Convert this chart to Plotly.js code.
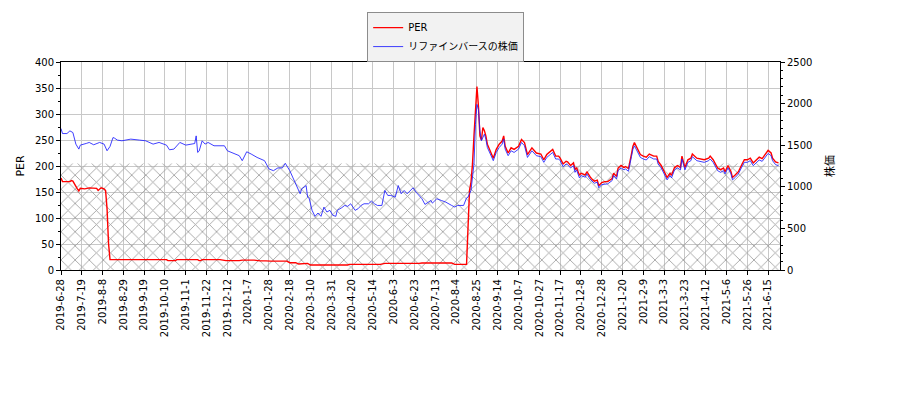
<!DOCTYPE html>
<html>
<head>
<meta charset="utf-8">
<script src="https://cdn.plot.ly/plotly-3.0.1.min.js"></script>
<style>
  html, body { margin: 0; padding: 0; background: #fff; }
  #chart { width: 900px; height: 400px; }
</style>
</head>
<body>
<div id="chart"></div>
<script>
// x axis is trading-day index, a label every 14 days
var tickLabels = ["2019-6-28","2019-7-19","2019-8-8","2019-8-29","2019-9-19","2019-10-10","2019-11-1","2019-11-22","2019-12-12","2020-1-7","2020-1-28","2020-2-18","2020-3-10","2020-3-31","2020-4-20","2020-5-14","2020-6-3","2020-6-23","2020-7-13","2020-8-4","2020-8-25","2020-9-14","2020-10-7","2020-10-27","2020-11-17","2020-12-8","2020-12-28","2021-1-20","2021-2-9","2021-3-3","2021-3-23","2021-4-12","2021-5-6","2021-5-26","2021-6-15"];
var tickStep = 14;
var lastDay = 484;

// PER (left axis)
var perDay = [0,1,6,7,8,10,11,12,13,16,19,24,25,27,29,30,31,32,33,71,72,77,78,92,93,94,95,107,111,120,122,130,134,138,141,152,154,158,160,166,168,193,194,215,218,241,243,263,265,273,
  274,275,276,277,278,279,280,281,282,283,284,285,286,287,289,291,293,295,297,298,299,301,303,305,308,310,312,314,317,320,323,325,327,329,331,333,335,336,338,340,341,343,345,346,347,349,350,353,354,356,357,359,361,362,364,366,368,371,372,374,375,377,379,380,382,384,385,386,388,390,392,394,396,399,401,402,404,406,408,410,411,413,415,417,418,420,422,424,425,428,431,433,436,437,439,441,442,444,446,447,449,451,452,454,456,458,460,462,464,466,468,470,472,474,476,478,479,481,483];
var perVal = [177,170,170,172,171,159,156,152,157,156,158,157,153,158,156,153,118,51,20,20,18,18,20,20,18,18,20,20,18,18,19,19,17.5,17.5,17,17,14,14,11.5,12.7,9.6,9.6,10.8,10.8,12.7,12.7,13.5,13.5,10.8,10.8,
  102,153,169,204,258,306,353,315,258,250,274,268,258,242,229,215,232,242,248,258,238,225,235,232,238,251,245,222,235,225,223,212,222,227,232,219,219,215,204,209,208,201,206,193,197,182,186,183,189,180,176,171,173,162,168,170,170,176,186,180,196,201,197,199,195,223,238,245,232,222,219,217,223,219,219,209,201,189,178,186,182,197,201,197,219,197,212,215,223,215,214,212,215,219,212,201,196,193,196,189,201,189,178,183,189,201,212,212,215,206,212,217,214,222,230,225,215,208,206];

// share price (right axis)
var priceDay = [0,1,4,6,8,10,12,13,17,19,22,26,29,31,33,35,36,38,41,47,53,57,62,66,71,73,76,80,84,88,90,91,92,93,95,97,99,103,107,110,112,117,120,122,125,128,132,137,140,143,146,149,151,154,156,158,159,161,162,164,165,166,167,169,171,173,175,177,179,181,183,185,186,189,191,193,195,198,200,202,204,207,209,211,213,216,218,220,222,225,227,229,231,233,237,239,241,243,245,247,249,250,253,256,259,263,265,267,271,273,274,276,277,278,279,280,281,282,283,285,286,287,289,291,293,295,297,298,299,301,303,305,308,310,312,314,317,320,323,325,327,329,331,333,335,336,338,340,341,343,345,346,347,349,350,353,354,356,357,359,361,362,364,366,368,371,372,374,375,377,379,380,382,384,385,386,388,390,392,394,396,399,401,402,404,406,408,410,411,413,415,417,418,420,422,424,425,428,431,433,436,437,439,441,442,444,446,447,449,451,452,454,456,458,460,462,464,466,468,470,472,474,476,478,479,481,483];
var priceVal = [1700,1640,1640,1672,1652,1513,1453,1501,1521,1533,1505,1533,1513,1433,1485,1592,1585,1561,1553,1573,1561,1553,1513,1533,1501,1445,1453,1533,1501,1513,1520,1612,1413,1430,1553,1513,1533,1493,1493,1493,1433,1394,1374,1314,1421,1394,1353,1314,1215,1194,1227,1227,1282,1194,1115,1035,995,916,975,1003,1015,876,865,717,645,685,645,756,697,717,657,645,717,749,776,765,796,717,737,776,796,796,828,796,776,776,956,896,896,876,1015,916,956,916,988,936,896,856,788,816,836,804,856,836,816,776,757,776,776,866,876,956,1100,1274,1750,1991,1931,1672,1553,1633,1573,1473,1394,1314,1413,1473,1513,1573,1453,1374,1433,1413,1453,1533,1493,1353,1433,1374,1362,1294,1353,1386,1413,1334,1334,1314,1242,1274,1266,1227,1254,1174,1203,1107,1135,1115,1155,1095,1075,1043,1055,988,1027,1035,1035,1075,1135,1095,1194,1227,1203,1215,1186,1362,1453,1493,1413,1353,1334,1322,1362,1334,1334,1274,1227,1155,1083,1135,1107,1203,1227,1203,1334,1203,1294,1314,1362,1314,1306,1294,1314,1334,1294,1227,1194,1174,1194,1155,1227,1155,1083,1115,1155,1227,1294,1294,1314,1254,1294,1322,1306,1353,1401,1374,1314,1266,1254];

// hatched band on the PER axis
var bandLevel = [205, 205];

var font = "DejaVu Sans, 'Noto Sans CJK JP', sans-serif";

var tickVals = tickLabels.map(function (t, i) { return i * tickStep; });

var band = {
  x: [0, lastDay], y: bandLevel, type: 'scatter', mode: 'lines',
  line: { width: 0 }, fill: 'tozeroy', fillcolor: 'rgba(0,0,0,0)',
  fillpattern: { shape: 'x', fgcolor: '#9c9c9c', bgcolor: 'rgba(255,255,255,0)', size: 10, solidity: 0.16 },
  showlegend: false, hoverinfo: 'skip'
};
var per = {
  x: perDay, y: perVal, type: 'scatter', mode: 'lines', name: 'PER',
  line: { color: '#ff0000', width: 1.4 }
};
var price = {
  x: priceDay, y: priceVal, type: 'scatter', mode: 'lines', name: 'リファインバースの株価',
  yaxis: 'y2', line: { color: 'rgba(30,30,255,0.85)', width: 1 }
};

var layout = {
  width: 900, height: 400,
  margin: { l: 61, r: 120, t: 60, b: 130 },
  paper_bgcolor: '#fff', plot_bgcolor: '#fff',
  font: { family: font, size: 10, color: '#000' },
  showlegend: true,
  legend: {
    x: 0.535, xanchor: 'center', y: 1.24, yanchor: 'top',
    bgcolor: '#f2f2f2', bordercolor: '#8c8c8c', borderwidth: 1,
    font: { family: font, size: 10 }, tracegroupgap: 0, itemwidth: 30
  },
  xaxis: {
    range: [0, lastDay], tickmode: 'array', tickvals: tickVals, ticktext: tickLabels,
    tickangle: -90, ticks: 'outside', ticklen: 4, tickcolor: '#000',
    showgrid: true, gridcolor: '#c8c8c8', gridwidth: 1,
    showline: true, linecolor: '#000', linewidth: 1, mirror: true,
    zeroline: false, tickfont: { size: 10 }
  },
  yaxis: {
    range: [0, 400], dtick: 50, ticks: 'outside', ticklen: 4, tickcolor: '#000',
    minor: { dtick: 25, ticklen: 2, ticks: 'outside', tickcolor: '#000', showgrid: false },
    showgrid: true, gridcolor: '#c8c8c8', gridwidth: 1,
    showline: true, linecolor: '#000', linewidth: 1, zeroline: false,
    title: { text: 'PER', font: { size: 11 }, standoff: 8 }
  },
  yaxis2: {
    overlaying: 'y', side: 'right', range: [0, 2500], dtick: 500,
    ticks: 'outside', ticklen: 4, tickcolor: '#000',
    minor: { dtick: 100, ticklen: 2, ticks: 'outside', tickcolor: '#000', showgrid: false },
    showgrid: false, showline: true, linecolor: '#000', linewidth: 1, zeroline: false,
    title: { text: '株価', font: { size: 11 }, standoff: 14 }
  }
};

Plotly.newPlot('chart', [band, per, price], layout, { staticPlot: true, displayModeBar: false });
</script>
</body>
</html>
